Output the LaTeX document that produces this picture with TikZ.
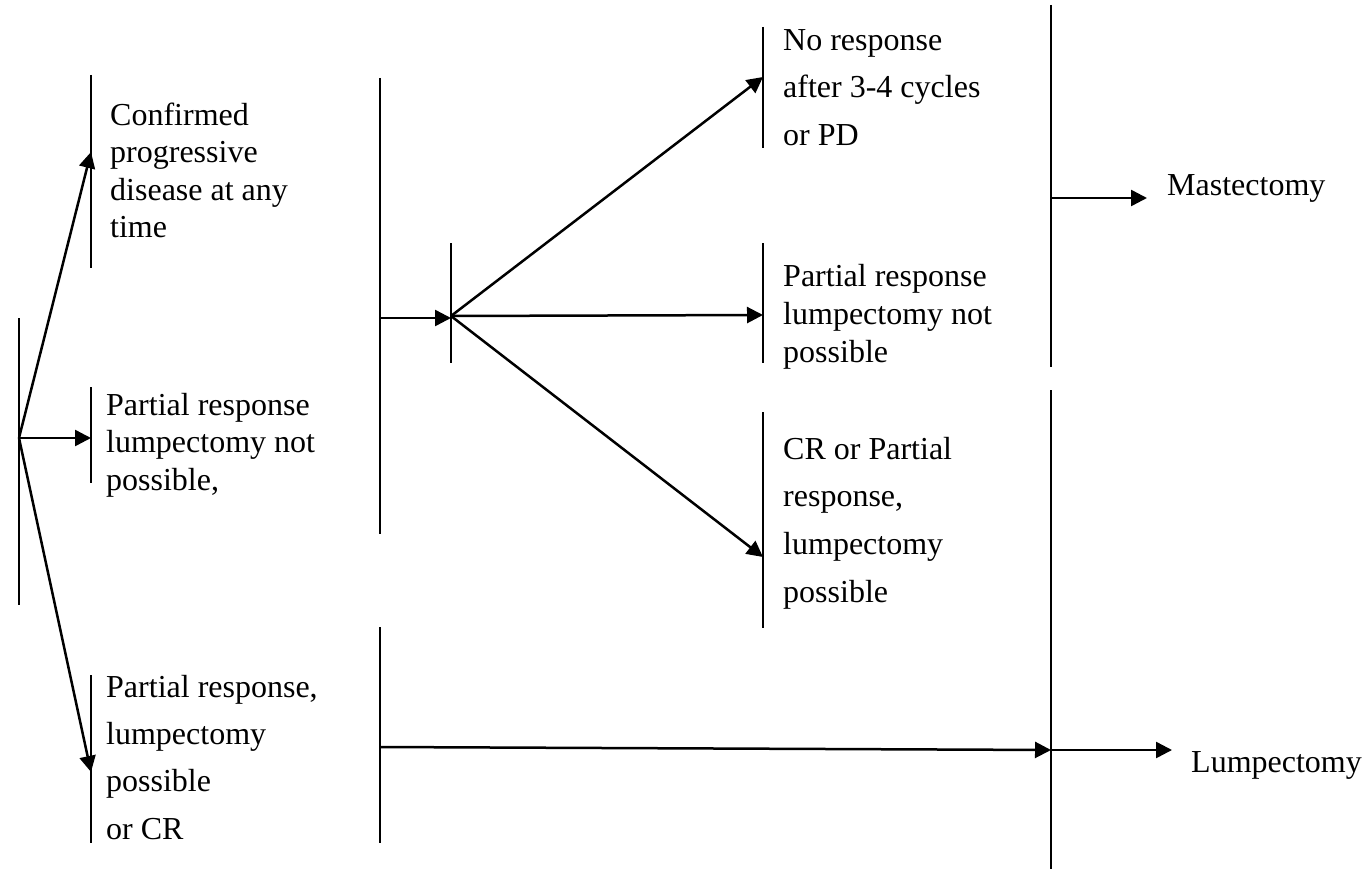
\documentclass[tikz,border=0pt]{standalone}
\usepackage{fontspec}
\setmainfont{Liberation Serif}
\usetikzlibrary{arrows.meta}
\begin{document}
\begin{tikzpicture}[x=1pt,y=-1pt,
  bar/.style={line width=1.8pt},
  flow/.style={line width=2.5pt,-{Triangle[length=16pt,width=16pt]}},
  lbl/.style={anchor=north west,inner sep=0pt,align=left,
              font=\fontsize{32}{#1}\selectfont},
  lbl/.default=37.5]
\useasboundingbox (0,0) rectangle (1372,869);

% ---- vertical bars (top and bottom ends) ----
\coordinate (L0a) at (19,318);   \coordinate (L0b) at (19,605);
\coordinate (B1a) at (91,75);    \coordinate (B1b) at (91,268);
\coordinate (B2a) at (91,387);   \coordinate (B2b) at (91,483);
\coordinate (B3a) at (91,675);   \coordinate (B3b) at (91,843);
\coordinate (C1a) at (380,78);   \coordinate (C1b) at (380,534);
\coordinate (C2a) at (451,243);  \coordinate (C2b) at (451,363);
\coordinate (C3a) at (380,627);  \coordinate (C3b) at (380,843);
\coordinate (D1a) at (763,27);   \coordinate (D1b) at (763,148);
\coordinate (D2a) at (763,243);  \coordinate (D2b) at (763,363);
\coordinate (D3a) at (763,412);  \coordinate (D3b) at (763,628);
\coordinate (M1a) at (1051,5);   \coordinate (M1b) at (1051,367);
\coordinate (M2a) at (1051,390); \coordinate (M2b) at (1051,869);

\foreach \b in {L0,B1,B2,B3,C1,C2,C3,D1,D2,D3,M1,M2}
  \draw[bar] (\b a) -- (\b b);

% ---- connector ends on the bars ----
\coordinate (start) at (19,438);
\coordinate (inB1)  at (91,152);
\coordinate (inB2)  at (91,438);
\coordinate (inB3)  at (91,772);
\coordinate (outC1) at (380,318);
\coordinate (inC2)  at (451,318);
\coordinate (hub)   at (451,316);
\coordinate (inD1)  at (763,77);
\coordinate (inD2)  at (763,315);
\coordinate (inD3)  at (763,557);
\coordinate (outC3) at (380,747);
\coordinate (inM2)  at (1051,750);
\coordinate (outM1) at (1051,198);
\coordinate (toMas) at (1147,198);
\coordinate (toLum) at (1172,750);

% ---- labels ----
\node[lbl] (t1) at (110,101)
  {\rule{0pt}{24pt}Confirmed\\progressive\\disease at any\\time};
\node[lbl] (t2) at (106,391)
  {\rule{0pt}{24pt}Partial response\\lumpectomy not\\possible,};
\node[lbl=47.3] (t3) at (106,673)
  {\rule{0pt}{24pt}Partial response,\\lumpectomy\\possible\\or CR};
\node[lbl=47.5] (d1) at (783,26)
  {\rule{0pt}{24pt}No response\\after 3-4 cycles\\or PD};
\node[lbl=38] (d2) at (783,262)
  {\rule{0pt}{24pt}Partial response\\lumpectomy not\\possible};
\node[lbl=47.7] (d3) at (783,435)
  {\rule{0pt}{24pt}CR or Partial\\response,\\lumpectomy\\possible};
\node[lbl] (mas) at (1167,171) {\rule{0pt}{24pt}Mastectomy};
\node[lbl] (lum) at (1191,748) {\rule{0pt}{24pt}Lumpectomy};

% ---- arrows ----
\draw[flow] (start) -- (inB1);
\draw[flow] (start) -- (inB2);
\draw[flow] (start) -- (inB3);
\draw[flow] (outC1) -- (inC2);
\draw[flow] (hub) -- (inD1);
\draw[flow] (hub) -- (inD2);
\draw[flow] (hub) -- (inD3);
\draw[flow] (outC3) -- (inM2);
\draw[flow] (outM1) -- (toMas);
\draw[flow] (inM2) -- (toLum);
\end{tikzpicture}
\end{document}
